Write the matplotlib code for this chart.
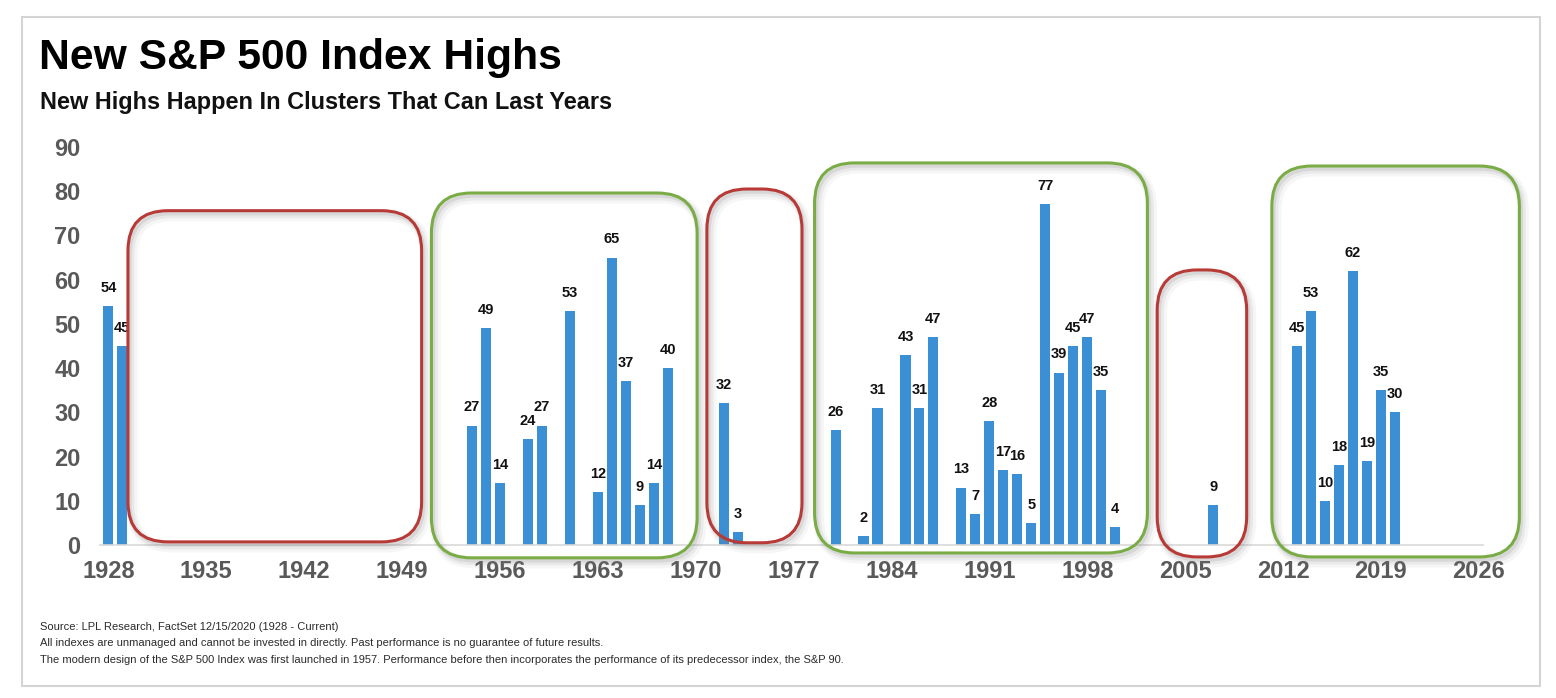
import matplotlib
matplotlib.use("Agg")
import matplotlib.pyplot as plt
from matplotlib.patches import FancyBboxPatch, Rectangle

# --- DATA ---
years = [1928, 1929,
         1954, 1955, 1956, 1958, 1959, 1961, 1963, 1964, 1965, 1966, 1967, 1968,
         1972, 1973,
         1980, 1982, 1983, 1985, 1986, 1987, 1989, 1990, 1991, 1992, 1993, 1994,
         1995, 1996, 1997, 1998, 1999, 2000,
         2007,
         2013, 2014, 2015, 2016, 2017, 2018, 2019, 2020]
new_highs = [54, 45,
             27, 49, 14, 24, 27, 53, 12, 65, 37, 9, 14, 40,
             32, 3,
             26, 2, 31, 43, 31, 47, 13, 7, 28, 17, 16, 5,
             77, 39, 45, 47, 35, 4,
             9,
             45, 53, 10, 18, 62, 19, 35, 30]
x_ticks = list(range(1928, 2027, 7))
y_ticks = list(range(0, 91, 10))

# cluster boxes: (start year, end year, bottom, top, kind)
clusters = [
    (1929.4, 1950.4, 0.7, 75.6, "bear"),
    (1951.1, 1970.1, -2.9, 79.6, "bull"),
    (1970.8, 1977.6, 0.5, 80.5, "bear"),
    (1978.5, 2002.3, -1.8, 86.4, "bull"),
    (2003.0, 2009.4, -2.7, 62.2, "bear"),
    (2011.2, 2028.9, -2.7, 85.7, "bull"),
]
box_colors = {"bear": "#b73a36", "bull": "#7aac45"}

TITLE = "New S&P 500 Index Highs"
SUBTITLE = "New Highs Happen In Clusters That Can Last Years"
FOOTNOTES = [
    "Source: LPL Research, FactSet 12/15/2020 (1928 - Current)",
    "All indexes are unmanaged and cannot be invested in directly. Past performance is no guarantee of future results.",
    "The modern design of the S&P 500 Index was first launched in 1957. Performance before then incorporates the performance of its predecessor index, the S&P 90.",
]

plt.rcParams['font.family'] = ['Liberation Sans', 'DejaVu Sans']

W, H = 1556, 698
fig = plt.figure(figsize=(W / 100, H / 100), dpi=100)
ax = fig.add_axes([100 / W, 1 - 545 / H, 1383 / W, 398 / H])

ax.bar(years, new_highs, width=0.72, color="#3b8fd4", zorder=2)
for x, v in zip(years, new_highs):
    ax.annotate(str(v), (x, v), xytext=(0, 8), textcoords="offset points",
                ha="center", va="bottom", fontsize=10.5, fontweight="bold",
                color="#111111", zorder=5)

ax.set_xlim(1927.4, 2026.3)
ax.set_ylim(0, 90)
ax.set_xticks(x_ticks)
ax.set_yticks(y_ticks)
ax.tick_params(axis="x", length=0, pad=11, labelsize=17, labelcolor="#595959")
ax.tick_params(axis="y", length=0, pad=14, labelsize=17, labelcolor="#595959")
for lab in ax.get_xticklabels() + ax.get_yticklabels():
    lab.set_fontweight("bold")
for s in ["top", "right", "left"]:
    ax.spines[s].set_visible(False)
ax.spines["bottom"].set_color("#d9d9d9")
ax.spines["bottom"].set_linewidth(1.2)

# rounded cluster boxes with soft shadow, placed via data coordinates
for x0, x1, y0, y1, kind in clusters:
    (px0, py0) = ax.transData.transform((x0, y0))
    (px1, py1) = ax.transData.transform((x1, y1))
    w, h = px1 - px0, py1 - py0
    rad = min(40, w / 2 - 4)
    for dx, dy, lw, a in [(4, -5, 8, 0.07), (3, -4, 5, 0.11), (2, -3, 2.5, 0.17)]:
        sh = FancyBboxPatch((px0 + rad + dx, py0 + rad + dy), w - 2 * rad, h - 2 * rad,
                            boxstyle=f"round,pad={rad}", fill=False,
                            edgecolor="#808080", linewidth=lw, alpha=a,
                            transform=None, zorder=3)
        fig.patches.append(sh)
    box = FancyBboxPatch((px0 + rad, py0 + rad), w - 2 * rad, h - 2 * rad,
                         boxstyle=f"round,pad={rad}", fill=False,
                         edgecolor=box_colors[kind], linewidth=2.2,
                         transform=None, zorder=4)
    fig.patches.append(box)

# outer frame
fig.patches.append(Rectangle((22 / W, 1 - 686 / H), 1518 / W, 669 / H,
                             fill=False, edgecolor="#d4d4d4", linewidth=1.5,
                             transform=fig.transFigure, figure=fig))

fig.text(39 / W, 1 - 58 / H, TITLE, fontsize=30.7, fontweight="bold",
         color="#000000", va="center", ha="left")
fig.text(40 / W, 1 - 102 / H, SUBTITLE, fontsize=16.9, fontweight="bold",
         color="#111111", va="center", ha="left")
for i, line in enumerate(FOOTNOTES):
    fig.text(40 / W, 1 - (627 + 16.5 * i) / H, line, fontsize=8,
             color="#2b2b2b", va="center", ha="left")

fig.savefig("out.png", dpi=100, facecolor="white")
